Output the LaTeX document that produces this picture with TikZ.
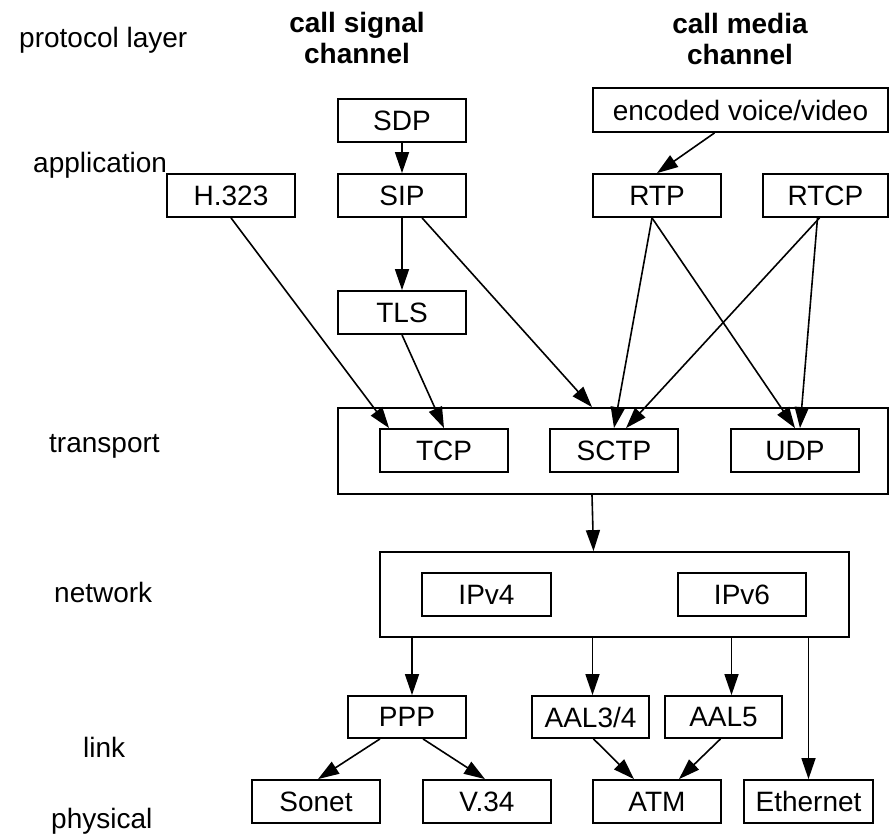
\documentclass[tikz,border=0pt]{standalone}
\usepackage{fontspec}
\setmainfont{Liberation Sans}
\usetikzlibrary{arrows.meta,positioning}

\tikzset{
  proto/.style={draw, line width=1.8pt, minimum width=128pt, minimum height=43pt, inner sep=0pt},
  group/.style={draw, line width=1.8pt, inner sep=0pt},
  layer/.style={anchor=base west, inner sep=0pt},
  chan/.style={anchor=north, inner sep=0pt, align=center, font=\bfseries\fontsize{28}{31}\selectfont},
  link/.style={-{Triangle[length=21pt,width=14pt]}, line width=1.6pt},
}

\begin{document}
\begin{tikzpicture}[x=1pt, y=-1pt, on grid, font=\fontsize{28}{32}\selectfont]
        \useasboundingbox (0,0) rectangle (889,833);
        % layer names down the left
        \node[layer] (l_proto) at (19,47) {protocol layer};
        \node[layer] (l_app) at (33,172) {application};
        \node[layer] (l_trans) at (49,452) {transport};
        \node[layer] (l_net) at (54,602) {network};
        \node[layer] (l_link) at (83,757) {link};
        \node[layer] (l_phys) at (51,828) {physical};
        \node[chan] (c_sig) at (357,12) {call signal\\channel};
        \node[chan] (c_med) at (740,13) {call media\\channel};
        % application
        \node[proto] (sdp) at (402,120.5) {SDP};
        \node[proto] (sip) [below=75pt of sdp] {SIP};
        \node[proto] (tls) [below=117pt of sip] {TLS};
        \node[proto] (h323) [left=171pt of sip] {H.323};
        \node[proto, minimum width=295pt, minimum height=44pt] (enc) at (740.5,110) {encoded voice/video};
        \node[proto] (rtp) at (657,195.5) {RTP};
        \node[proto, minimum width=125pt] (rtcp) [right=168.5pt of rtp] {RTCP};
        % transport
        \node[group, minimum width=550pt, minimum height=86pt] (transport) at (613,451) {};
        \node[proto] (tcp) at (444,450.5) {TCP};
        \node[proto] (sctp) [right=170pt of tcp] {SCTP};
        \node[proto] (udp) [right=181pt of sctp] {UDP};
        % network
        \node[group, minimum width=469pt, minimum height=85pt] (network) at (614.5,594.5) {};
        \node[proto, minimum width=129pt] (ipv4) at (486.5,594.5) {IPv4};
        \node[proto] (ipv6) [right=255.5pt of ipv4] {IPv6};
        % link and physical
        \node[proto, minimum width=118pt, minimum height=42pt] (ppp) at (407,717) {PPP};
        \node[proto, minimum width=117pt, minimum height=42pt] (aal34) at (590.5,717) {AAL3/4};
        \node[proto, minimum width=117pt, minimum height=42pt] (aal5) at (723.5,717) {AAL5};
        \node[proto] (sonet) at (316,801.5) {Sonet};
        \node[proto] (v34) at (487,801.5) {V.34};
        \node[proto] (atm) at (657,801.5) {ATM};
        \node[proto, minimum width=129pt] (eth) at (808.5,801.5) {Ethernet};
        \path[link]
            (sdp)
                edge (sip)
            (sip)
                edge (tls)
                edge ([xshift=-21pt]transport.north)
            (h323.south)
                edge ([xshift=10pt]tcp.north west)
            (tls.south)
                edge (tcp.north)
            ([xshift=-26pt]enc.south)
                edge (rtp.north)
            ([xshift=-5pt]rtp.south)
                edge (sctp.north)
                edge (udp.north)
            ([xshift=-6pt]rtcp.south)
                edge ([xshift=12pt]sctp.north)
            ([xshift=-8pt]rtcp.south)
                edge ([xshift=5pt]udp.north)
            ([xshift=-21pt]transport.south)
                edge ([xshift=-21pt]network.north)
            ([xshift=5pt]ppp.north |- network.south)
                edge ([xshift=5pt]ppp.north)
            ([xshift=2pt]aal34.north |- network.south)
                edge ([xshift=2pt]aal34.north)
            ([xshift=8pt]aal5.north |- network.south)
                edge ([xshift=8pt]aal5.north)
            (eth.north |- network.south)
                edge (eth.north)
            ([xshift=-27pt]ppp.south)
                edge ([xshift=2pt]sonet.north)
            ([xshift=16pt]ppp.south)
                edge ([xshift=-2pt]v34.north)
            ([xshift=3pt]aal34.south)
                edge ([xshift=-23pt]atm.north)
            ([xshift=-3pt]aal5.south)
                edge ([xshift=22pt]atm.north);
    \end{tikzpicture}
\end{document}
